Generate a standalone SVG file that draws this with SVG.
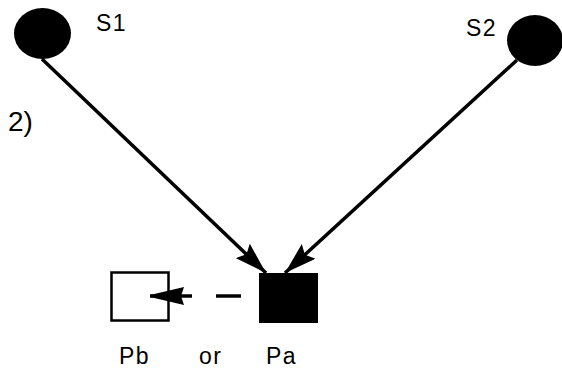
<svg xmlns="http://www.w3.org/2000/svg" width="562" height="371" viewBox="0 0 562 371">
  <style>
    text { font-family: "Liberation Sans", Arial, sans-serif; fill: #000; }
    .lbl { font-size: 23px; letter-spacing: 1.5px; }
    .edge { stroke: #000; stroke-width: 3.5; fill: none; }
  </style>
  <defs>
    <marker id="head" markerWidth="32" markerHeight="20" refX="32" refY="10" orient="auto" markerUnits="userSpaceOnUse">
      <path d="M0,0 L32,10 L0,20 L5,10 Z" fill="#000"/>
    </marker>
    <marker id="headSmall" markerWidth="34" markerHeight="18" refX="34" refY="9" orient="auto" markerUnits="userSpaceOnUse">
      <path d="M0,0 L34,8 L34,10 L0,18 L3,9 Z" fill="#000"/>
    </marker>
  </defs>
  <rect width="562" height="371" fill="#fff"/>

  <text x="8" y="131" style="font-size:28px">2)</text>

  <g id="connectors">
    <line class="edge" x1="42" y1="59" x2="266" y2="273" marker-end="url(#head)"/>
    <line class="edge" x1="517" y1="60" x2="285" y2="273" marker-end="url(#head)"/>
    <line class="edge" x1="192" y1="296" x2="150" y2="296" marker-end="url(#headSmall)"/>
    <line class="edge" x1="216" y1="296" x2="241" y2="296"/>
  </g>

  <g id="S1">
    <ellipse cx="42.5" cy="33.5" rx="28.5" ry="25.5" fill="#000"/>
    <text class="lbl" x="96" y="31">S1</text>
  </g>
  <g id="S2">
    <ellipse cx="535" cy="40.5" rx="28" ry="25.5" fill="#000"/>
    <text class="lbl" x="466" y="36">S2</text>
  </g>
  <g id="Pb">
    <rect x="111.5" y="272.5" width="57" height="48" fill="none" stroke="#000" stroke-width="2.5"/>
    <text class="lbl" x="119" y="364">Pb</text>
  </g>
  <g id="or">
    <text class="lbl" x="199" y="364">or</text>
  </g>
  <g id="Pa">
    <rect x="259" y="273" width="59" height="50" fill="#000"/>
    <text class="lbl" x="266" y="364">Pa</text>
  </g>
</svg>
